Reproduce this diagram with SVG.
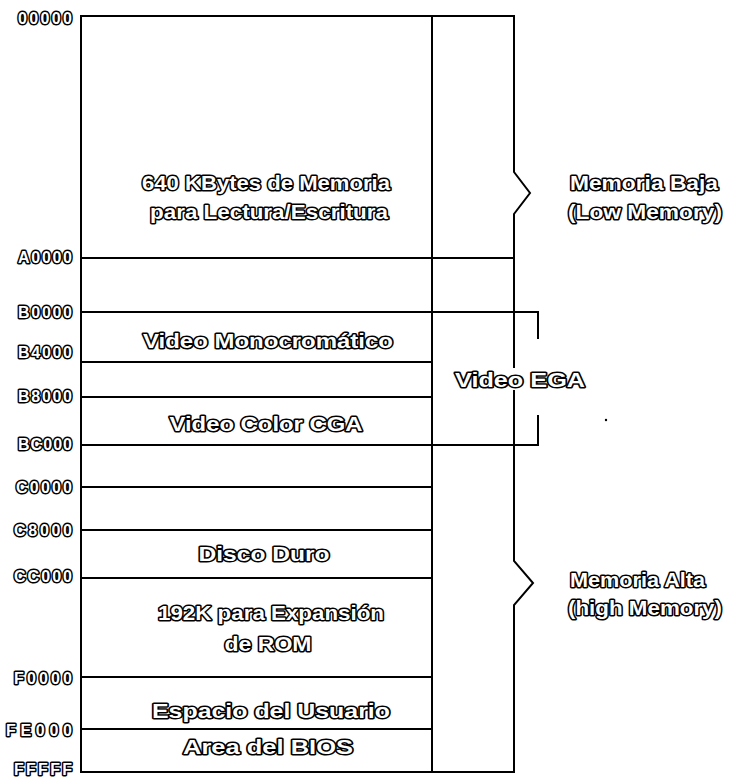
<svg xmlns="http://www.w3.org/2000/svg" width="754" height="783" viewBox="0 0 754 783">
<style>
.ln{fill:none;stroke:#000;stroke-width:2;stroke-linecap:square}
.t{font-family:"Liberation Sans",Arial,sans-serif;font-weight:bold;fill:#fff;stroke:#000;stroke-width:3;paint-order:stroke;stroke-linejoin:round}
.m{font-size:21px;text-anchor:middle}
.r{font-size:21px}
.a{font-size:16px;text-anchor:end}
</style>
<rect width="754" height="783" fill="#fff"/>
<g id="frame" class="ln">
<path d="M81 16V772M81 16H514M81 772H514M432 16V772"/>
<path d="M81 258H514M81 312H538M81 362H432M81 397H432M81 445H538M81 487H432M81 530H432M81 578H432M81 677H432M81 729H432"/>
</g>
<g id="connectors" class="ln">
<path d="M514 16V172L530 193L514 214V367"/>
<path d="M514 391V561L533 583L514 605V772"/>
<path d="M538 312V338M538 416V445"/>
<circle cx="606" cy="420" r="1.2" fill="#000" stroke="none"/>
</g>
<g id="addresses" class="t a">
<text x="72" y="24" textLength="54">00000</text>
<text x="72" y="263" textLength="54">A0000</text>
<text x="72" y="318" textLength="54">B0000</text>
<text x="72" y="358" textLength="54">B4000</text>
<text x="72" y="402" textLength="54">B8000</text>
<text x="72" y="450" textLength="54">BC000</text>
<text x="72" y="493" textLength="56">C0000</text>
<text x="72" y="536" textLength="58">C8000</text>
<text x="72" y="582" textLength="58">CC000</text>
<text x="72" y="684" textLength="58">F0000</text>
<text x="72" y="736" textLength="66">FE000</text>
<text x="72" y="775" textLength="58">FFFFF</text>
</g>
<g id="node-ram">
<text class="t m" x="266" y="190" textLength="248" lengthAdjust="spacingAndGlyphs">640 KBytes de Memoria</text>
<text class="t m" x="269" y="219" textLength="238" lengthAdjust="spacingAndGlyphs">para Lectura/Escritura</text>
</g>
<g id="node-mono">
<text class="t m" x="268" y="348" textLength="250" lengthAdjust="spacingAndGlyphs">Video Monocromático</text>
</g>
<g id="node-cga">
<text class="t m" x="266" y="431" textLength="193" lengthAdjust="spacingAndGlyphs">Video Color CGA</text>
</g>
<g id="node-disco">
<text class="t m" x="264" y="561" textLength="131" lengthAdjust="spacingAndGlyphs">Disco Duro</text>
</g>
<g id="node-rom">
<text class="t m" x="271" y="620" textLength="226" lengthAdjust="spacingAndGlyphs">192K para Expansión</text>
<text class="t m" x="268" y="651" textLength="87" lengthAdjust="spacingAndGlyphs">de ROM</text>
</g>
<g id="node-usuario">
<text class="t m" x="271" y="718" textLength="238" lengthAdjust="spacingAndGlyphs">Espacio del Usuario</text>
</g>
<g id="node-bios">
<text class="t m" x="268" y="754" textLength="170" lengthAdjust="spacingAndGlyphs">Area del BIOS</text>
</g>
<g id="node-ega">
<text class="t r" x="455" y="387" textLength="130" lengthAdjust="spacingAndGlyphs">Video EGA</text>
</g>
<g id="node-baja">
<text class="t r" x="570" y="190" textLength="148" lengthAdjust="spacingAndGlyphs">Memoria Baja</text>
<text class="t r" x="568" y="219" textLength="154" lengthAdjust="spacingAndGlyphs">(Low Memory)</text>
</g>
<g id="node-alta">
<text class="t r" x="570" y="587" textLength="135" lengthAdjust="spacingAndGlyphs">Memoria Alta</text>
<text class="t r" x="568" y="615" textLength="154" lengthAdjust="spacingAndGlyphs">(high Memory)</text>
</g>
</svg>
